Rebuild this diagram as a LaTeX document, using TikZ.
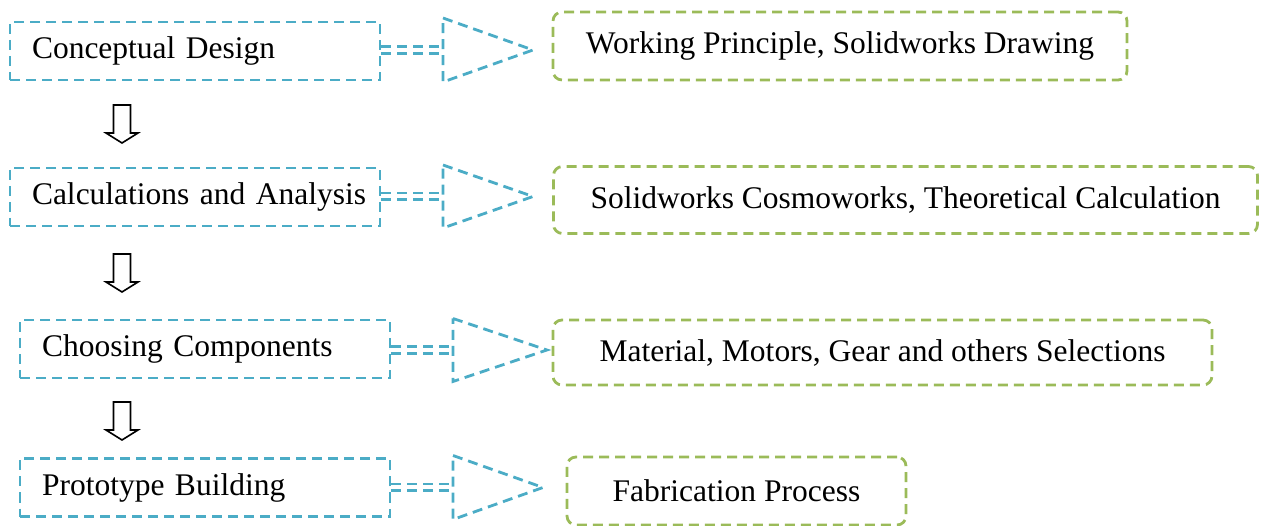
\documentclass[tikz,border=0pt]{standalone}
\usepackage{fontspec}
\setmainfont{Liberation Serif}
\usetikzlibrary{calc}
\definecolor{stepblue}{RGB}{75,172,198}
\definecolor{resgreen}{RGB}{155,187,89}
\tikzset{
  bluedash/.style={draw=stepblue, line width=2.8pt, dash pattern=on 10pt off 6pt},
  greendash/.style={draw=resgreen, line width=2.8pt, dash pattern=on 10pt off 6pt},
  stepbox/.style={bluedash, rectangle, inner xsep=22pt, inner ysep=0pt,
    text width=326pt, minimum height=58pt, align=left,
    font=\fontsize{31.5}{36}\selectfont},
  resultbox/.style={greendash, rectangle, rounded corners=9pt, inner sep=0pt,
    align=center, font=\fontsize{31.5}{36}\selectfont},
  downarrow/.pic={
    \draw[line width=1.6pt, line join=miter]
      (-8.5,0) -- (8.5,0) -- (8.5,28) -- (16,28) -- (0,38) -- (-16,28) -- (-8.5,28) -- cycle;
  }
}
\begin{document}
\begin{tikzpicture}[x=1pt, y=-1pt]
\useasboundingbox (0,0) rectangle (1267,526);

% process steps
\node[stepbox] (b1) at (195,51)  {\mbox{Conceptual Design}};
\node[stepbox] (b2) at (195,197) {\mbox{Calculations and Analysis}};
\node[stepbox] (b3) at (205,349) {\mbox{Choosing Components}};
\node[stepbox] (b4) at (205,487.5) {\mbox{Prototype Building}};

% outcomes of each step
\node[resultbox, minimum width=574pt, minimum height=68pt] (g1) at (840,46) {Working Principle, Solidworks Drawing};
\node[resultbox, minimum width=704pt, minimum height=67pt] (g2) at (905.5,200) {Solidworks Cosmoworks, Theoretical Calculation};
\node[resultbox, minimum width=659pt, minimum height=65pt] (g3) at (882.5,352.5) {Material, Motors, Gear and others Selections};
\node[resultbox, minimum width=339pt, minimum height=68pt] (g4) at (736.5,491) {Fabrication Process};

% striped block arrows from each step to its outcome
% row: step node, base x, tip x, centre y, half height of head
\foreach \b/\bx/\tx/\cy/\hh in {b1/443/533/50/32, b2/443/533/196.5/31.5, b3/453/547/350/31.5, b4/453/543/487.5/32}{
  \coordinate (base) at (\bx,\cy);
  \coordinate (tip) at (\tx,\cy);
  \draw[bluedash] ($(\b.east |- base)+(0,-3.4)$) -- ($(base)+(0,-3.4)$);
  \draw[bluedash] ($(\b.east |- base)+(0,3.4)$) -- ($(base)+(0,3.4)$);
  \draw[bluedash] ($(base)+(0,-\hh)$) -- (tip) -- ($(base)+(0,\hh)$) -- cycle;
}

% hollow arrows between consecutive steps
\coordinate (d1) at (122,105);
\coordinate (d2) at (122,254);
\coordinate (d3) at (122,402);
\pic at (d1) {downarrow};
\pic at (d2) {downarrow};
\pic at (d3) {downarrow};
\end{tikzpicture}
\end{document}
